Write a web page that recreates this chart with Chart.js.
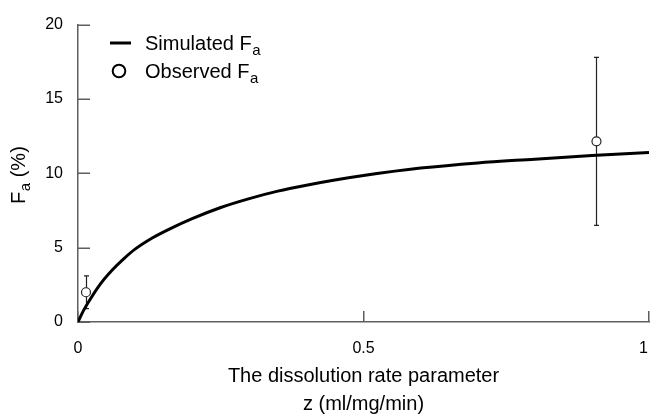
<!DOCTYPE html>
<html>
<head>
<meta charset="utf-8">
<script src="https://cdn.jsdelivr.net/npm/chart.js@4/dist/chart.umd.min.js"></script>
<style>
  html, body { margin: 0; padding: 0; background: #fff; }
  #wrap { width: 651px; height: 418px; position: relative; }
</style>
</head>
<body>
<div id="wrap"><canvas id="c" width="651" height="418"></canvas></div>
<script>
// ---- data ----
const simZ = [0, 0.01, 0.02, 0.04, 0.06, 0.08, 0.10, 0.13, 0.16, 0.20, 0.25, 0.30, 0.35, 0.40, 0.45, 0.50, 0.60, 0.70, 0.80, 0.90, 1.00];
const simF = [0, 0.8, 1.45, 2.6, 3.5, 4.25, 4.9, 5.65, 6.25, 6.95, 7.7, 8.3, 8.8, 9.2, 9.55, 9.85, 10.35, 10.7, 10.95, 11.2, 11.4];
const obsZ = [0.014, 0.908];
const obsF = [2.0, 12.15];
const obsErr = [1.1, 5.65];
const xTicks = [0, 0.5, 1];
const xTickLabels = ['0', '0.5', '1'];
const yTicks = [0, 5, 10, 15, 20];
const seriesNames = ['Simulated F', 'Observed F'];
const seriesSub = 'a';
const xTitle = ['The dissolution rate parameter', 'z (ml/mg/min)'];
const yTitleMain = 'F';
const yTitleSub = 'a';
const yTitleRest = ' (%)';

const AXIS = '#5e5e5e';
const FONT = "'Liberation Sans', Arial, sans-serif";

const decor = {
  id: 'decor',
  beforeDatasetsDraw(chart) {
    const ctx = chart.ctx, xs = chart.scales.x, ys = chart.scales.y;
    ctx.save();
    // inward ticks
    ctx.strokeStyle = AXIS; ctx.lineWidth = 1.5;
    yTicks.forEach(v => {
      const y = Math.round(ys.getPixelForValue(v)) + 0.25;
      ctx.beginPath(); ctx.moveTo(xs.left, y); ctx.lineTo(xs.left + 12, y); ctx.stroke();
    });
    xTicks.forEach(v => {
      const x = Math.round(xs.getPixelForValue(v)) - 0.25;
      ctx.beginPath(); ctx.moveTo(x, ys.bottom); ctx.lineTo(x, ys.bottom - 11); ctx.stroke();
    });
    // x tick labels (last one kept inside the canvas)
    ctx.fillStyle = '#000';
    ctx.font = '16px ' + FONT;
    ctx.textBaseline = 'middle';
    xTicks.forEach((v, i) => {
      const x = xs.getPixelForValue(v);
      const last = i === xTicks.length - 1;
      ctx.textAlign = last ? 'right' : 'center';
      ctx.fillText(xTickLabels[i], last ? x - 1 : x, ys.bottom + 27);
    });
    // error bars
    ctx.strokeStyle = '#222'; ctx.lineWidth = 1.2;
    obsZ.forEach((z, i) => {
      const x = Math.round(xs.getPixelForValue(z)) + 0.5;
      const yt = ys.getPixelForValue(obsF[i] + obsErr[i]);
      const yb = ys.getPixelForValue(obsF[i] - obsErr[i]);
      ctx.beginPath();
      ctx.moveTo(x, yt); ctx.lineTo(x, yb);
      ctx.moveTo(x - 2.5, yt); ctx.lineTo(x + 2.5, yt);
      ctx.moveTo(x - 2.5, yb); ctx.lineTo(x + 2.5, yb);
      ctx.stroke();
    });
    ctx.restore();
  },
  afterDraw(chart) {
    const ctx = chart.ctx, ys = chart.scales.y;
    ctx.save();
    ctx.fillStyle = '#000';
    // y title with subscript, rotated
    const fMain = '20px ' + FONT, fSub = '15px ' + FONT;
    ctx.font = fMain;
    const w1 = ctx.measureText(yTitleMain).width;
    const w3 = ctx.measureText(yTitleRest).width;
    ctx.font = fSub;
    const w2 = ctx.measureText(yTitleSub).width;
    const total = w1 + w2 + w3;
    ctx.translate(25, (ys.top + ys.bottom) / 2 + 2);
    ctx.rotate(-Math.PI / 2);
    ctx.textBaseline = 'alphabetic';
    let x0 = -total / 2;
    ctx.font = fMain; ctx.fillText(yTitleMain, x0, 0);
    ctx.font = fSub; ctx.fillText(yTitleSub, x0 + w1 + 0.5, 5);
    ctx.font = fMain; ctx.fillText(yTitleRest, x0 + w1 + w2 + 0.5, 0);
    ctx.restore();

    // legend
    ctx.save();
    ctx.strokeStyle = '#000';
    ctx.lineWidth = 3;
    ctx.beginPath(); ctx.moveTo(110, 43); ctx.lineTo(131, 43); ctx.stroke();
    ctx.lineWidth = 2;
    ctx.fillStyle = '#fff';
    ctx.beginPath(); ctx.arc(119, 71, 6.3, 0, Math.PI * 2); ctx.fill(); ctx.stroke();
    ctx.fillStyle = '#000';
    ctx.textBaseline = 'alphabetic';
    const lf = '20px ' + FONT, sf = '15px ' + FONT;
    [[seriesNames[0], 49.5], [seriesNames[1], 78]].forEach(([t, by]) => {
      ctx.font = lf; ctx.fillText(t, 145, by);
      const w = ctx.measureText(t).width;
      ctx.font = sf; ctx.fillText(seriesSub, 145 + w + 0.5, by + 5);
    });
    ctx.restore();
  }
};

new Chart(document.getElementById('c'), {
  type: 'scatter',
  data: {
    datasets: [
      {
        label: seriesNames[0] + seriesSub,
        data: simZ.map((z, i) => ({ x: z, y: simF[i] })),
        showLine: true,
        borderColor: '#000',
        borderWidth: 3,
        pointRadius: 0,
        cubicInterpolationMode: 'monotone',
        fill: false
      },
      {
        label: seriesNames[1] + seriesSub,
        data: obsZ.map((z, i) => ({ x: z, y: obsF[i] })),
        showLine: false,
        pointStyle: 'circle',
        pointRadius: 4.5,
        pointBackgroundColor: '#fff',
        pointBorderColor: '#222',
        pointBorderWidth: 1.2
      }
    ]
  },
  options: {
    responsive: false,
    animation: false,
    devicePixelRatio: 1,
    layout: { autoPadding: false, padding: { top: 20, right: 2, left: 0, bottom: 0 } },
    plugins: { legend: { display: false }, tooltip: { enabled: false } },
    scales: {
      x: {
        type: 'linear', min: 0, max: 1,
        afterFit(s) { s.height = 96; s.paddingLeft = 0; s.paddingRight = 0; },
        afterBuildTicks(s) { s.ticks = xTicks.map(v => ({ value: v })); },
        ticks: { display: false },
        grid: { display: true, drawOnChartArea: false, drawTicks: false },
        border: { display: true, color: AXIS, width: 1.5 },
        title: { display: true, text: xTitle, color: '#000',
                 font: { family: FONT, size: 20, lineHeight: 1.4 }, padding: { top: 0, bottom: 0 } }
      },
      y: {
        type: 'linear', min: 0, max: 20,
        afterFit(s) { s.width = 78; },
        afterBuildTicks(s) { s.ticks = yTicks.map(v => ({ value: v })); },
        ticks: { color: '#000', font: { family: FONT, size: 16 }, padding: 15,
                 callback: v => String(v) },
        grid: { display: true, drawOnChartArea: false, drawTicks: false },
        border: { display: true, color: AXIS, width: 1.5 }
      }
    }
  },
  plugins: [decor]
});
</script>
</body>
</html>
